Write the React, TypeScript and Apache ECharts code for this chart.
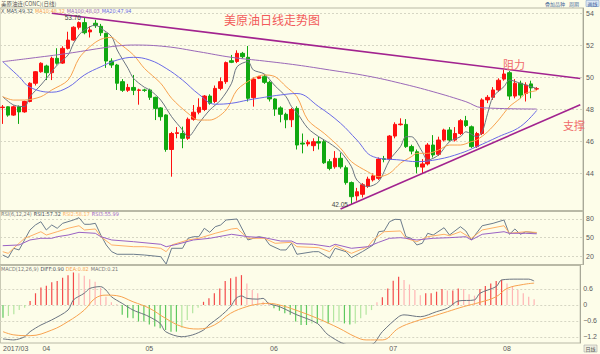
import React, { useEffect, useRef } from 'react';
import * as echarts from 'echarts';

const dates = [
  '2017/03/22','2017/03/23','2017/03/24','2017/03/27','2017/03/28','2017/03/29','2017/03/30','2017/03/31',
  '2017/04/03','2017/04/04','2017/04/05','2017/04/06','2017/04/07','2017/04/10','2017/04/11','2017/04/12','2017/04/13','2017/04/17','2017/04/18','2017/04/19','2017/04/20','2017/04/21','2017/04/24','2017/04/25','2017/04/26','2017/04/27','2017/04/28',
  '2017/05/01','2017/05/02','2017/05/03','2017/05/04','2017/05/05','2017/05/08','2017/05/09','2017/05/10','2017/05/11','2017/05/12','2017/05/15','2017/05/16','2017/05/17','2017/05/18','2017/05/19','2017/05/22','2017/05/23','2017/05/24','2017/05/25','2017/05/26','2017/05/29','2017/05/30','2017/05/31',
  '2017/06/01','2017/06/02','2017/06/05','2017/06/06','2017/06/07','2017/06/08','2017/06/09','2017/06/12','2017/06/13','2017/06/14','2017/06/15','2017/06/16','2017/06/19','2017/06/20','2017/06/21','2017/06/22','2017/06/23','2017/06/26','2017/06/27','2017/06/28','2017/06/29','2017/06/30',
  '2017/07/03','2017/07/04','2017/07/05','2017/07/06','2017/07/07','2017/07/10','2017/07/11','2017/07/12','2017/07/13','2017/07/14','2017/07/17','2017/07/18','2017/07/19','2017/07/20','2017/07/21','2017/07/24','2017/07/25','2017/07/26','2017/07/27','2017/07/28','2017/07/31',
  '2017/08/01','2017/08/02','2017/08/03','2017/08/04','2017/08/07','2017/08/08'
];
const blankSlots = ['', '', '', '', '', '', '', ''];

const opens = [48.12,48.17,47.65,48.17,47.85,48.5,49.64,50.36,50.72,50.3,51.2,50.9,51.82,52.34,53.14,53.43,52.85,53.39,53.2,52.76,51.03,50.78,49.74,49.2,49.38,49.2,49.22,49.22,48.76,48.1,47.66,45.5,46.5,46.5,46.2,47.39,47.83,48.0,48.84,48.5,49.32,49.74,51.05,51.0,51.51,51.26,48.74,49.95,50.05,49.7,48.66,48.1,47.7,47.36,48.07,45.9,45.85,45.74,45.99,45.99,44.74,44.42,44.95,44.36,43.43,42.6,42.7,43.2,43.6,43.7,44.92,44.9,46.34,47.05,47.07,45.68,45.36,44.4,44.6,45.78,45.2,46.09,46.72,46.09,46.5,47.3,46.92,45.68,46.5,48.6,48.76,49.22,49.9,50.3,48.84,49.64,49.0,49.6,49.28];
const closes = [48.15,47.65,48.17,47.85,48.5,49.64,50.36,50.89,50.3,51.2,50.89,51.82,52.34,53.14,53.43,52.8,52.97,53.24,52.8,51.03,50.78,49.64,49.2,49.38,49.2,49.22,49.2,48.76,48.07,47.55,45.5,46.5,46.55,46.2,47.39,47.83,48.14,48.84,48.39,49.32,49.74,50.93,50.95,51.51,51.3,48.7,49.9,50.05,49.7,48.66,48.03,47.7,47.36,48.0,45.78,45.84,45.95,45.99,45.9,44.67,44.32,44.95,44.42,43.43,42.55,42.86,43.3,43.65,43.85,44.9,44.88,46.34,47.07,47.09,45.68,45.4,44.42,44.6,45.78,45.16,46.09,46.72,46.09,46.5,47.3,47.0,45.68,46.5,48.6,48.76,49.22,49.83,50.22,48.84,49.64,48.9,49.53,49.35,49.3];
const lows = [47.1,47.55,47.6,47.1,47.8,48.45,49.5,50.3,49.84,49.84,50.8,50.85,51.75,52.3,53.0,52.7,52.5,53.1,52.6,50.6,50.6,49.22,49.1,49.1,48.9,48.3,49.1,48.6,47.34,47.3,45.36,43.8,46.2,45.58,46.1,47.3,47.7,47.9,48.3,48.4,49.2,49.6,50.9,50.9,51.2,48.5,48.18,49.9,49.6,48.5,47.6,47.2,46.83,46.9,45.5,45.26,45.7,45.4,45.5,44.6,44.2,44.3,44.3,43.3,42.05,42.3,42.5,43.1,43.5,43.6,44.7,44.8,46.2,47.0,45.6,45.2,44.01,44.0,44.5,45.0,45.1,46.0,46.0,46.0,46.4,46.9,45.6,45.6,46.4,48.4,48.6,49.1,49.8,48.6,48.7,48.7,48.5,48.7,49.2];
const highs = [48.28,48.2,48.25,48.25,48.55,49.7,50.4,50.95,50.8,51.3,51.83,51.95,52.86,53.2,53.5,53.76,53.2,53.6,53.35,52.8,51.2,50.85,49.9,49.6,50.16,49.3,49.3,49.3,48.8,48.15,47.7,46.6,46.9,46.93,47.5,48.28,48.7,48.9,48.95,49.5,50.0,51.0,51.41,51.7,51.6,51.97,50.0,50.1,50.2,49.8,48.7,48.2,47.8,48.1,48.2,46.5,46.1,46.2,46.3,46.1,44.9,45.4,45.3,44.5,43.5,43.1,43.4,43.8,44.0,45.0,45.1,46.4,47.2,47.45,47.4,45.8,45.5,44.9,45.9,46.4,46.3,46.8,46.9,46.9,47.4,47.6,47.0,46.6,48.7,48.9,49.4,49.95,50.47,50.4,49.9,49.8,49.7,49.8,49.4];

// moving averages as [candle index, value]
const ma5 = [[0,48.8],[2,48.28],[4,48.18],[5,48.8],[7,49.53],[9,50.36],[10,50.78],[12,51.41],[13,52.14],[14,52.66],[15,52.97],[17,53.28],[18,53.08],[20,52.55],[21,51.72],[23,50.57],[24,49.95],[26,49.39],[27,49.22],[29,48.59],[31,47.55],[33,46.72],[34,46.3],[36,47.14],[38,47.97],[40,48.59],[42,49.64],[43,50.67],[45,50.99],[46,50.47],[48,50.22],[50,49.47],[52,48.8],[53,48.18],[54,47.8],[56,46.83],[58,46.3],[60,45.89],[62,45.36],[64,44.43],[65,43.59],[67,43.18],[69,43.49],[71,44.84],[73,45.68],[74,46.3],[75,46.3],[77,45.36],[78,44.84],[80,45.16],[82,45.99],[84,46.3],[85,46.61],[87,46.3],[88,46.61],[89,47.76],[90,48.8],[92,49.43],[93,49.84],[95,49.64],[96,49.53],[98,49.32]];
const ma10 = [[0,48.8],[2,48.59],[4,48.59],[7,48.8],[9,49.22],[12,49.84],[14,51.2],[16,51.93],[18,52.39],[20,52.51],[21,52.24],[24,51.41],[26,50.57],[29,49.64],[31,48.7],[34,47.76],[36,47.34],[38,47.34],[41,47.97],[43,49.22],[46,49.95],[48,50.16],[50,50.05],[52,49.43],[54,48.8],[56,47.34],[59,46.51],[62,45.58],[64,44.74],[67,44.11],[69,43.8],[71,44.01],[73,44.64],[75,45.05],[76,45.26],[78,45.26],[80,45.47],[82,45.78],[84,45.78],[86,45.99],[87,46.09],[89,46.61],[91,47.34],[93,48.18],[95,48.7],[96,49.01],[98,49.18]];
const ma20 = [[0,50.99],[3,50.05],[5,49.39],[9,49.08],[12,49.39],[15,50.16],[18,50.67],[21,51.09],[24,51.26],[27,51.09],[30,50.57],[33,49.84],[36,48.95],[39,48.33],[42,48.39],[45,48.59],[48,48.76],[51,48.91],[54,49.0],[58,48.18],[62,47.14],[65,46.09],[68,45.05],[73,44.84],[76,44.74],[80,44.89],[84,45.26],[87,45.68],[91,46.3],[95,46.93],[98,47.94]];
const ma100 = [[0,50.99],[5,51.2],[12,51.51],[18,51.83],[21,51.97],[24,52.03],[30,51.93],[36,51.61],[42,51.26],[48,51.03],[54,50.78],[60,50.47],[67,50.09],[73,49.64],[79,49.11],[85,48.49],[88,48.11],[98,48.03]];

const rsi1 = [[0,21.6],[1,17.3],[2,32.5],[3,29.8],[4,46],[5,62.2],[6,70.3],[7,75.6],[8,62.2],[9,70.3],[10,64.9],[11,73],[13,78.4],[14,82.1],[15,71.4],[16,71.4],[17,73],[18,54],[19,37.9],[20,27],[21,22.8],[24,22.8],[26,21.6],[29,18.9],[30,7],[31,32.5],[33,32.5],[34,48.7],[35,51.3],[36,51.3],[37,64.9],[38,58.4],[39,67.5],[40,70.3],[41,78.4],[43,80],[45,46],[46,48.7],[47,51.3],[48,49.7],[49,37.9],[51,29.8],[52,29.8],[53,40.6],[54,22.8],[57,27],[58,27],[59,21.6],[60,16.3],[61,32.5],[63,27],[64,17.3],[66,27],[68,37.9],[69,59.4],[70,60.6],[71,75.6],[72,79.5],[73,79],[74,51.3],[75,48.7],[76,37.9],[77,40.6],[78,56.8],[79,54],[81,65.9],[82,54],[84,67.5],[85,60.6],[86,46],[88,69.1],[90,73],[92,78.4],[93,55.2],[94,63.8],[95,55.2],[96,59.4],[98,57.32]];
const rsi2 = [[0,27],[1,24.3],[2,32.5],[4,48.7],[5,52],[7,59.4],[8,54],[10,59.4],[12,64.9],[14,69.1],[15,62.2],[17,63.8],[18,51.3],[20,37.9],[24,35.1],[26,35.1],[29,32.5],[30,27],[31,37.9],[34,46],[36,48.7],[39,56.8],[42,63.8],[43,64.9],[45,48.7],[48,48.7],[50,40.6],[53,42.2],[54,35.1],[58,33.5],[60,27],[61,37],[64,24.3],[67,35.1],[68,46],[70,59.4],[73,60.6],[74,48.7],[76,43.2],[78,51.3],[81,55.2],[82,52.9],[84,59.4],[86,48.7],[88,62.2],[92,69.1],[93,56.8],[96,59.4],[98,58.17]];
const rsi3 = [[0,36.7],[3,37.9],[5,46],[7,48.7],[9,48.7],[10,51.3],[12,54],[14,58.4],[17,56.8],[18,51.3],[20,46],[24,43.2],[29,39],[30,35.1],[32,39],[35,46],[38,48.7],[42,55.2],[45,51.3],[48,49.7],[51,44.3],[53,44.3],[54,40],[57,39],[60,35.1],[61,39],[64,32.5],[67,35.1],[69,42.2],[71,48.7],[73,49.7],[74,48.7],[76,46],[79,48.7],[82,49.7],[85,51.3],[86,46],[88,55.2],[92,59.4],[93,56.8],[96,56.8],[98,55.99]];

const macdHist = [-0.48,-0.41,-0.35,-0.19,-0.1,0.15,0.44,0.66,0.72,0.85,0.9,1.02,1.12,1.22,1.19,1.1,0.97,0.87,0.65,0.31,0.1,0.03,-0.37,-0.48,-0.5,-0.62,-0.62,-0.73,-0.81,-0.87,-0.94,-1.0,-1.0,-0.85,-0.56,-0.31,-0.1,0.12,0.25,0.44,0.62,0.9,1.0,1.06,1.12,0.81,0.56,0.44,0.12,0.1,-0.12,-0.22,-0.31,-0.37,-0.62,-0.75,-0.75,-0.69,-0.69,-0.62,-0.69,-0.65,-0.62,-0.69,-0.73,-0.69,-0.5,-0.37,-0.19,0.1,0.29,0.62,0.91,1.06,0.94,0.77,0.56,0.37,0.44,0.44,0.5,0.6,0.54,0.54,0.62,0.6,0.4,0.35,0.6,0.71,0.81,0.9,0.94,0.81,0.69,0.56,0.44,0.31,0.22];
const diff = [[0,-1.27],[2,-1.31],[3,-1.27],[4,-1.19],[5,-1.0],[7,-0.75],[9,-0.56],[12,-0.19],[13,0.19],[15,0.44],[16,0.62],[18,0.69],[19,0.56],[20,0.31],[22,0.06],[24,-0.19],[26,-0.35],[27,-0.44],[29,-0.69],[30,-1.0],[33,-1.19],[35,-1.12],[37,-0.94],[38,-0.75],[40,-0.44],[42,-0.06],[43,0.25],[44,0.34],[45,0.25],[47,0.22],[48,0.25],[49,0.06],[51,-0.06],[53,-0.25],[54,-0.35],[58,-0.69],[60,-1.12],[64,-1.5],[68,-1.48],[70,-1.0],[73,-0.44],[74,-0.37],[77,-0.44],[80,-0.25],[82,-0.12],[84,0.15],[87,0.19],[88,0.44],[91,0.69],[92,0.94],[95,0.97],[97,0.97],[98,0.9]];
const dea = [[0,-1.0],[2,-1.12],[5,-1.15],[9,-0.94],[12,-0.62],[15,-0.19],[17,0.25],[19,0.37],[21,0.35],[24,0.12],[27,-0.12],[30,-0.5],[33,-0.81],[36,-0.9],[39,-0.75],[42,-0.31],[45,-0.06],[47,0.03],[49,0.06],[51,0],[54,-0.19],[58,-0.5],[62,-0.87],[65,-1.19],[67,-1.31],[70,-1.31],[73,-0.87],[76,-0.62],[79,-0.44],[82,-0.25],[85,-0.06],[88,0.1],[91,0.31],[93,0.62],[96,0.77],[98,0.82]];

const priceTicks = [44, 46, 48, 50, 52, 54];
const rsiTicks = [20, 50, 80];
const macdTicks = [-1.2, -0.6, 0, 0.6];

const resistance = [[9, 54.02], [106, 49.94]];
const support = [[62, 41.78], [106, 48.3]];
const lowMark = [64, 42.05];
const highMark = [15, 53.76];

const legendMA = { ma5: '49.32', ma10: '48.32', ma100: '48.03', ma20: '47.94' };
const legendRSI = { r1: '57.32', r2: '58.17', r3: '55.99' };
const legendMACD = { diff: '0.90', dea: '0.82', macd: '0.21' };

const UP = '#ff1010';
const DOWN = '#10a810';
const BG = '#fdfde9';
const GRIDLINE = '#d6d6c4';
const C_MA5 = '#6b7480';
const C_MA10 = '#f7a24f';
const C_MA20 = '#6a6ae6';
const C_MA100 = '#9a68b8';
const C_TREND = '#a2238f';
const C_RSI1 = '#6c7c8c';
const C_RSI2 = '#ffb066';
const C_RSI3 = '#9a62c4';
const LABEL = '#5a5a5a';
const FONT = 'Liberation Sans';
const NARROW = 'Liberation Sans Narrow, DejaVu Sans Condensed, Liberation Sans';
const CJK = 'Noto Sans CJK SC';

export default function App() {
  const ref = useRef<HTMLDivElement>(null);
  useEffect(() => {
    if (!ref.current) return;
    const chart = echarts.init(ref.current, null, { renderer: 'svg' });
    const categories = [...dates, ...blankSlots];
    const candleData = dates.map((_, i) => [opens[i], closes[i], lows[i], highs[i]]);
    const histData = macdHist.map((v, i) => {
      const prev = i > 0 ? macdHist[i - 1] : v;
      const weaker = Math.abs(v) < Math.abs(prev);
      const color = v >= 0 ? (weaker ? '#ffb4b4' : '#f44a4a') : (weaker ? '#b4e6a0' : '#5cc85c');
      return { value: v, itemStyle: { color } };
    });

    const grids = [
      { left: 0, right: 17, top: 8, height: 202.5 },
      { left: 0, right: 17, top: 211.5, height: 53 },
      { left: 0, right: 17, top: 265.5, height: 77.5 },
    ].map((g) => ({ ...g, show: true, borderColor: '#b9b9a6', borderWidth: 1, backgroundColor: 'transparent' }));

    const xAxisBase = {
      type: 'category' as const,
      data: categories,
      boundaryGap: true,
      axisLine: { show: false },
      axisTick: { show: false },
      splitLine: { show: false },
    };

    const yAxisBase = (gridIndex: number, min: number, max: number, ticks: number[], fmt?: (v: number) => string) => ({
      type: 'value' as const,
      gridIndex,
      position: 'right' as const,
      min,
      max,
      scale: true,
      axisLine: { show: true, lineStyle: { color: '#a8a898' } },
      axisTick: { show: false, customValues: ticks },
      axisLabel: {
        customValues: ticks,
        fontSize: 7,
        color: LABEL,
        fontFamily: FONT,
        margin: 3,
        formatter: fmt || ((v: number) => String(v)),
      },
      splitLine: { show: true, lineStyle: { color: GRIDLINE, type: [2, 2] as any, width: 1 } },
    });

    const text = (x: number, y: number, t: string, fill: string, size = 7, family = FONT) => ({
      type: 'text',
      x,
      y,
      style: { text: t, fill, fontSize: size, fontFamily: family, textVerticalAlign: 'middle' },
      z: 100,
    });

    const richRow = (x: number, y: number, parts: [string, string][]) => {
      const rich: any = {};
      const segs = parts.map(([t, c], i) => {
        rich['s' + i] = { fill: c, color: c, fontSize: 5.5, fontFamily: NARROW, padding: [0, 2, 0, 0] };
        return '{s' + i + '|' + t + '}';
      });
      return {
        type: 'text',
        x,
        y,
        style: { text: segs.join(''), rich, fontSize: 5.5, fontFamily: NARROW, textVerticalAlign: 'middle' },
        z: 100,
      };
    };

    const option: any = {
      animation: false,
      backgroundColor: BG,
      grid: grids,
      xAxis: [
        { ...xAxisBase, gridIndex: 0, axisLabel: { show: false } },
        { ...xAxisBase, gridIndex: 1, axisLabel: { show: false } },
        {
          ...xAxisBase,
          gridIndex: 2,
          axisLabel: {
            show: true,
            fontSize: 7,
            color: LABEL,
            fontFamily: FONT,
            margin: 2,
            alignMinLabel: 'left',
            interval: (index: number, value: string) =>
              index < dates.length && (index === 0 || value.slice(5, 7) !== dates[index - 1].slice(5, 7)),
            formatter: (value: string, index: number) => (index === 0 ? value.slice(0, 7) : value.slice(5, 7)),
          },
        },
      ],
      yAxis: [
        yAxisBase(0, 41.6875, 54.344, priceTicks),
        yAxisBase(1, 6.22, 92.16, rsiTicks),
        yAxisBase(2, -1.425, 1.481, macdTicks, (v: number) => (v === 0 ? '0' : v.toFixed(1).replace('-', '\u2212'))),
      ],
      series: [
        {
          type: 'candlestick',
          xAxisIndex: 0,
          yAxisIndex: 0,
          data: candleData,
          barWidth: 4,
          itemStyle: { color: UP, color0: DOWN, borderColor: UP, borderColor0: DOWN, borderWidth: 1 },
          markLine: {
            silent: true,
            symbol: ['none', 'none'],
            label: { show: false },
            lineStyle: { color: C_TREND, width: 1.6, type: 'solid' },
            data: [
              [{ coord: resistance[0] }, { coord: resistance[1] }],
              [{ coord: support[0] }, { coord: support[1] }],
            ],
          },
          markPoint: {
            silent: true,
            symbol: 'circle',
            symbolSize: 1,
            itemStyle: { color: 'rgba(0,0,0,0)' },
            label: { show: true, position: 'left', distance: 3, fontSize: 6.5, color: '#444', fontFamily: FONT },
            data: [
              { coord: lowMark, value: lowMark[1], label: { formatter: lowMark[1].toFixed(2) } },
              { coord: highMark, value: highMark[1], label: { formatter: highMark[1].toFixed(2) } },
            ],
          },
        },
        { type: 'line', name: 'MA5', xAxisIndex: 0, yAxisIndex: 0, data: ma5, showSymbol: false, smooth: 0.3, lineStyle: { color: C_MA5, width: 1 } },
        { type: 'line', name: 'MA10', xAxisIndex: 0, yAxisIndex: 0, data: ma10, showSymbol: false, smooth: 0.3, lineStyle: { color: C_MA10, width: 1 } },
        { type: 'line', name: 'MA20', xAxisIndex: 0, yAxisIndex: 0, data: ma20, showSymbol: false, smooth: 0.4, lineStyle: { color: C_MA20, width: 1 } },
        { type: 'line', name: 'MA100', xAxisIndex: 0, yAxisIndex: 0, data: ma100, showSymbol: false, smooth: 0.4, lineStyle: { color: C_MA100, width: 1 } },
        { type: 'line', name: 'RSI1', xAxisIndex: 1, yAxisIndex: 1, data: rsi1, showSymbol: false, lineStyle: { color: C_RSI1, width: 1 } },
        { type: 'line', name: 'RSI2', xAxisIndex: 1, yAxisIndex: 1, data: rsi2, showSymbol: false, lineStyle: { color: C_RSI2, width: 1 } },
        { type: 'line', name: 'RSI3', xAxisIndex: 1, yAxisIndex: 1, data: rsi3, showSymbol: false, lineStyle: { color: C_RSI3, width: 1 } },
        { type: 'bar', name: 'MACD', xAxisIndex: 2, yAxisIndex: 2, data: histData, barWidth: 1.2 },
        { type: 'line', name: 'DIFF', xAxisIndex: 2, yAxisIndex: 2, data: diff, showSymbol: false, smooth: 0.3, lineStyle: { color: C_MA5, width: 1 } },
        { type: 'line', name: 'DEA', xAxisIndex: 2, yAxisIndex: 2, data: dea, showSymbol: false, smooth: 0.4, lineStyle: { color: C_MA10, width: 1 } },
      ],
      graphic: [
        text(1, 3.5, '美原油连(CONC)(日线)', '#555', 5.5, CJK),
        richRow(1, 10.5, [
          ['X', '#555'],
          ['MA5:' + legendMA.ma5, '#4a5360'],
          ['MA10:' + legendMA.ma10, C_MA10],
          ['MA100:' + legendMA.ma100, C_MA100],
          ['MA20:' + legendMA.ma20, C_MA20],
        ]),
        text(224, 19, '美原油日线走势图', '#f25a5a', 12, CJK),
        text(503, 63.5, '阻力', '#f06a6a', 11, CJK),
        text(563, 124.5, '支撑', '#f06a6a', 11, CJK),
        richRow(1, 214, [
          ['RSI(6,12,24)', '#777'],
          ['RSI1:' + legendRSI.r1, '#3f4a58'],
          ['RSI2:' + legendRSI.r2, C_RSI2],
          ['RSI3:' + legendRSI.r3, C_RSI3],
        ]),
        richRow(1, 268.5, [
          ['MACD(12,26,9)', '#777'],
          ['DIFF:' + legendMACD.diff, '#3f4a58'],
          ['DEA:' + legendMACD.dea, C_MA10],
          ['MACD:' + legendMACD.macd, '#777'],
        ]),
        text(545, 3.5, '叠加品种', '#4a6a9a', 5, CJK),
        text(569, 3.5, '周期', '#4a6a9a', 5, CJK),
        {
          type: 'rect',
          shape: { x: 586, y: 0.5, width: 13, height: 6 },
          style: { fill: '#dde8f4', stroke: '#7a9aca', lineWidth: 0.5 },
          z: 99,
        },
        text(587.5, 3.5, '画线', '#3a5a9a', 5, CJK),
        {
          type: 'rect',
          shape: { x: 584, y: 345, width: 13, height: 7 },
          style: { fill: '#eeeee0', stroke: '#999', lineWidth: 0.5 },
          z: 99,
        },
        text(585.5, 348.5, '日线', '#555', 5, CJK),
      ],
    };
    chart.setOption(option);
    return () => chart.dispose();
  }, []);
  return (
    <div
      ref={ref}
      style={{ position: 'absolute', left: 0, top: 0, width: 600, height: 354, background: BG }}
    />
  );
}
